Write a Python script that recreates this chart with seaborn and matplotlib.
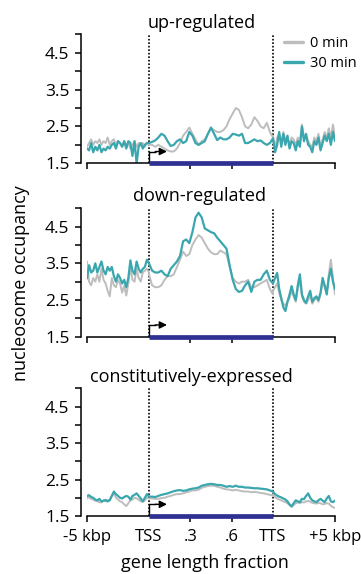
import numpy as np
import pandas as pd
import matplotlib
matplotlib.use("Agg")
import matplotlib.pyplot as plt
import seaborn as sns

# ---------------- data ----------------
titles = ["up-regulated", "down-regulated", "constitutively-expressed"]
series_labels = ["0 min", "30 min"]
xtick_labels = ["-5 kbp", "TSS", ".3", ".6", "TTS", "+5 kbp"]
ytick_values = [1.5, 2.0, 2.5, 3.0, 3.5, 4.0, 4.5, 5.0]
ytick_labels = ["1.5", "", "2.5", "", "3.5", "", "4.5", ""]

# up-regulated
up_0min_left = [1.95, 2.05, 2.15, 2.0, 2.1, 2.05, 2.15, 2.0, 2.1, 2.05, 2.2, 2.0, 2.1, 2.15, 2.0, 2.1,
                2.05, 1.95, 2.1, 2.0, 2.05, 1.9, 2.0, 2.1, 1.95, 2.05, 2.0, 2.05, 1.95, 2.05, 2.0]
up_0min_body = [2.0, 2.0, 1.95, 2.0, 1.95, 1.9, 1.85, 1.82, 1.82, 1.9, 2.05, 2.25, 2.35, 2.47, 2.3, 2.15,
                2.0, 2.1, 2.15, 2.3, 2.45, 2.4, 2.35, 2.35, 2.4, 2.5, 2.7, 2.85, 3.0, 2.95, 2.75, 2.5,
                2.45, 2.55, 2.75, 2.65, 2.5, 2.45, 2.6, 2.35, 2.2]
up_0min_right = [2.25, 1.9, 2.2, 2.3, 2.05, 2.35, 2.15, 2.2, 2.0, 2.2, 2.15, 2.0, 2.2, 2.05, 2.55, 2.2,
                 2.25, 2.1, 2.0, 1.95, 2.2, 2.1, 2.3, 1.95, 2.15, 2.35, 2.2, 2.45, 2.2, 2.55, 2.25]
up_30min_left = [1.9, 1.85, 2.05, 1.8, 1.95, 1.85, 2.0, 1.8, 1.9, 1.85, 1.95, 1.9, 2.0, 2.05, 1.9, 2.1,
                 2.05, 1.95, 2.1, 1.9, 2.1, 2.05, 1.7, 2.1, 1.5, 1.95, 2.05, 1.9, 2.0, 2.05, 2.05]
up_30min_body = [2.05, 2.08, 2.12, 2.2, 2.3, 2.25, 2.1, 1.97, 2.0, 2.1, 2.15, 2.05, 2.1, 2.35, 2.25, 2.05,
                 2.0, 2.05, 2.1, 2.3, 2.47, 2.3, 2.13, 2.2, 2.15, 2.15, 2.2, 2.3, 2.28, 2.25, 2.3, 2.05,
                 2.05, 2.1, 2.15, 2.1, 2.12, 2.05, 2.0, 2.05, 2.18]
up_30min_right = [2.18, 1.8, 2.0, 2.35, 1.95, 2.3, 2.0, 2.25, 1.9, 2.1, 2.05, 1.85, 2.1, 1.95, 2.5, 2.1,
                  2.3, 2.0, 1.95, 1.8, 2.1, 2.0, 2.2, 1.85, 2.05, 2.25, 2.1, 2.3, 2.0, 2.35, 2.1]

# down-regulated
down_0min_left = [3.55, 3.0, 2.9, 3.1, 3.0, 3.2, 3.0, 3.35, 3.05, 2.95, 2.75, 2.6, 3.1, 2.9, 2.85, 3.05,
                  2.95, 2.7, 2.9, 2.62, 2.95, 3.4, 3.05, 3.0, 3.35, 3.1, 3.0, 3.25, 3.3, 3.35, 3.25]
down_0min_body = [3.2, 2.9, 2.85, 2.85, 2.9, 3.05, 3.15, 3.15, 3.2, 3.4, 3.6, 3.82, 3.7, 3.75, 4.0, 4.15,
                  4.27, 4.2, 4.05, 3.9, 3.8, 3.75, 3.75, 3.85, 3.8, 3.75, 3.4, 3.1, 3.0, 2.95, 3.0, 3.0,
                  3.05, 2.85, 2.85, 2.9, 2.95, 3.0, 3.05, 2.8, 2.65]
down_0min_right = [2.75, 2.85, 2.95, 2.7, 2.5, 2.4, 2.35, 2.45, 2.55, 2.75, 2.6, 2.45, 2.8, 3.05, 2.6, 2.45,
                   2.4, 2.5, 2.65, 2.4, 2.5, 2.55, 2.45, 2.65, 3.0, 2.85, 2.7, 3.2, 3.6, 3.1, 2.65]
down_30min_left = [3.09, 3.45, 3.25, 3.3, 3.5, 3.25, 3.4, 3.55, 3.3, 3.2, 3.4, 3.3, 3.4, 3.15, 3.0, 3.2,
                   3.1, 2.95, 3.05, 2.85, 3.1, 3.58, 3.3, 3.2, 3.55, 3.35, 3.25, 3.35, 3.4, 3.6, 3.5]
down_30min_body = [3.5, 3.3, 3.25, 3.25, 3.3, 3.2, 3.15, 3.35, 3.45, 3.55, 3.7, 4.1, 4.15, 4.05, 4.35, 4.75,
                   4.88, 4.75, 4.45, 4.4, 4.35, 4.32, 4.2, 4.1, 4.0, 3.9, 3.45, 3.05, 2.8, 2.72, 2.75, 2.9,
                   3.0, 2.72, 3.0, 3.05, 3.05, 3.2, 3.3, 3.05, 2.95]
down_30min_right = [2.95, 3.1, 3.24, 2.8, 2.55, 2.3, 2.2, 2.45, 2.65, 2.88, 2.65, 2.5, 2.9, 3.2, 2.65, 2.5,
                    2.42, 2.6, 2.75, 2.45, 2.55, 2.6, 2.5, 2.7, 3.1, 2.9, 2.65, 3.1, 3.35, 3.0, 2.8]

# constitutively-expressed
const_0min_left = [1.98, 2.02, 1.97, 1.95, 1.92, 1.9, 1.88, 1.87, 1.92, 1.9, 1.93, 1.95, 2.05, 2.12, 2.0, 1.95,
                   1.9, 1.88, 1.82, 1.77, 1.85, 1.93, 1.95, 2.0, 1.98, 1.95, 1.9, 1.89, 1.93, 2.0, 1.98]
const_0min_body = [1.98, 1.98, 1.97, 1.97, 1.99, 2.0, 2.03, 2.05, 2.08, 2.1, 2.1, 2.12, 2.15, 2.17, 2.2, 2.2,
                   2.22, 2.27, 2.3, 2.32, 2.33, 2.33, 2.3, 2.28, 2.25, 2.23, 2.22, 2.2, 2.22, 2.2, 2.18, 2.17,
                   2.17, 2.15, 2.16, 2.15, 2.13, 2.12, 2.1, 2.08, 2.06]
const_0min_right = [2.08, 2.02, 1.98, 1.95, 1.93, 1.9, 1.88, 1.85, 1.8, 1.76, 1.8, 1.85, 1.87, 1.85, 1.88, 1.87,
                    1.9, 1.92, 1.89, 1.86, 1.85, 1.84, 1.86, 1.85, 1.82, 1.83, 1.85, 1.84, 1.78, 1.74, 1.72]
const_30min_left = [2.05, 2.07, 2.02, 2.0, 1.95, 1.93, 1.97, 1.9, 1.92, 1.94, 1.9, 1.93, 2.05, 2.17, 2.1, 2.05,
                    2.0, 1.98, 2.02, 2.05, 2.03, 1.95, 2.05, 2.08, 2.12, 2.05, 1.98, 1.9, 2.0, 2.1, 2.03]
const_30min_body = [2.03, 2.03, 2.02, 2.05, 2.08, 2.1, 2.12, 2.15, 2.18, 2.2, 2.21, 2.19, 2.2, 2.23, 2.25, 2.26,
                    2.28, 2.33, 2.35, 2.37, 2.38, 2.37, 2.35, 2.35, 2.33, 2.3, 2.32, 2.3, 2.33, 2.3, 2.3, 2.28,
                    2.28, 2.27, 2.26, 2.26, 2.25, 2.24, 2.23, 2.2, 2.17]
const_30min_right = [2.17, 2.1, 2.06, 2.03, 2.01, 1.98, 1.95, 1.9, 1.82, 1.76, 1.85, 1.93, 1.9, 1.88, 1.97, 1.96,
                     2.05, 2.12, 2.0, 1.93, 1.9, 1.88, 1.93, 1.97, 1.92, 1.88, 1.98, 2.05, 1.9, 1.88, 1.92]

panels = [
    (up_0min_left, up_0min_body, up_0min_right, up_30min_left, up_30min_body, up_30min_right),
    (down_0min_left, down_0min_body, down_0min_right, down_30min_left, down_30min_body, down_30min_right),
    (const_0min_left, const_0min_body, const_0min_right, const_30min_left, const_30min_body, const_30min_right),
]

# ---------------- style ----------------
sns.set_theme(style="ticks")
plt.rcParams["font.family"] = ["Open Sans", "DejaVu Sans"]
plt.rcParams["axes.edgecolor"] = "black"
plt.rcParams["xtick.color"] = "black"
plt.rcParams["ytick.color"] = "black"
plt.rcParams["text.color"] = "black"

GRAY = "#bdbdbd"
TEAL = "#3aa6ae"
NAVY = "#2e3192"

W, H = 361, 574
fig = plt.figure(figsize=(W / 100, H / 100), dpi=100)

# axes boxes in pixels: (top, bottom)
boxes = [(34.3, 163.3), (208.3, 336.7), (388.3, 516.0)]
x_left_px, x_right_px = 87, 335

n_l, n_b, n_r = 31, 41, 31
xs = np.concatenate([np.linspace(-0.5, 0, n_l), np.linspace(0, 1, n_b), np.linspace(1, 1.5, n_r)])

title_pos = [(202, 28), (200, 201), (191, 382)]

for k, (top, bot) in enumerate(boxes):
    ax = fig.add_axes([x_left_px / W, 1 - bot / H, (x_right_px - x_left_px) / W, (bot - top) / H])
    g_l, g_b, g_r, t_l, t_b, t_r = panels[k]
    df = pd.DataFrame({
        "x": np.concatenate([xs, xs]),
        "y": np.concatenate([g_l, g_b, g_r, t_l, t_b, t_r]),
        "time": [series_labels[0]] * len(xs) + [series_labels[1]] * len(xs),
    })
    sns.lineplot(data=df[df.time == series_labels[0]], x="x", y="y", color=GRAY, lw=1.4,
                 estimator=None, sort=False, ax=ax, label=series_labels[0])
    sns.lineplot(data=df[df.time == series_labels[1]], x="x", y="y", color=TEAL, lw=1.6,
                 estimator=None, sort=False, ax=ax, label=series_labels[1])

    ax.set_xlim(-0.5, 1.5)
    ax.set_ylim(1.5, 5.0)
    ax.set_xlabel("")
    ax.set_ylabel("")

    # TSS / TTS dotted lines
    for xv in (0, 1):
        ax.axvline(xv, color="black", lw=1.2, ls=(0, (1, 1.1)), zorder=1)

    # gene body bar
    ax.plot([0, 1], [1.5, 1.5], color=NAVY, lw=3.4, solid_capstyle="butt", clip_on=False, zorder=6)
    # TSS arrow
    ax.plot([0, 0, 0.06], [1.5, 1.82, 1.82], color="black", lw=1.0, zorder=5, solid_capstyle="butt")
    ax.annotate("", xy=(0.145, 1.82), xytext=(0.05, 1.82),
                arrowprops=dict(arrowstyle="-|>", color="black", lw=1.0, mutation_scale=11,
                                shrinkA=0, shrinkB=0))

    sns.despine(ax=ax)
    ax.spines["left"].set_position(("outward", 6 * 0.72))
    ax.spines["left"].set_linewidth(1.1)
    ax.spines["bottom"].set_linewidth(1.1)

    ax.set_yticks(ytick_values)
    ax.set_yticklabels(ytick_labels, fontsize=12.5)
    ax.set_xticks([-0.5, 0, 1 / 3, 2 / 3, 1, 1.5])
    if k == 2:
        ax.set_xticklabels(xtick_labels, fontsize=12)
    else:
        ax.set_xticklabels([])
    for i in (1, 4):
        ax.xaxis.get_major_ticks()[i].tick1line.set_visible(False)
    ax.tick_params(axis="both", length=4.3, width=1.1, pad=4)
    ax.tick_params(axis="x", pad=5)

    if k == 0:
        ax.legend(loc="upper left", bbox_to_anchor=((284 - 87) / 248, 0.985), frameon=False,
                  fontsize=10.5, handlelength=1.3, handletextpad=0.45, labelspacing=0.35,
                  borderaxespad=0, borderpad=0)
        for ln in ax.get_legend().get_lines():
            ln.set_linewidth(2.4)
    else:
        leg = ax.get_legend()
        if leg is not None:
            leg.remove()

    tx, ty = title_pos[k]
    fig.text(tx / W, 1 - ty / H, titles[k], ha="center", va="baseline", fontsize=13)

fig.text(21 / W, 1 - 283 / H, "nucleosome occupancy", rotation=90, ha="center", va="center", fontsize=13)
fig.text(205 / W, 1 - 563 / H, "gene length fraction", ha="center", va="center", fontsize=13)

fig.savefig("out.png", dpi=100)
